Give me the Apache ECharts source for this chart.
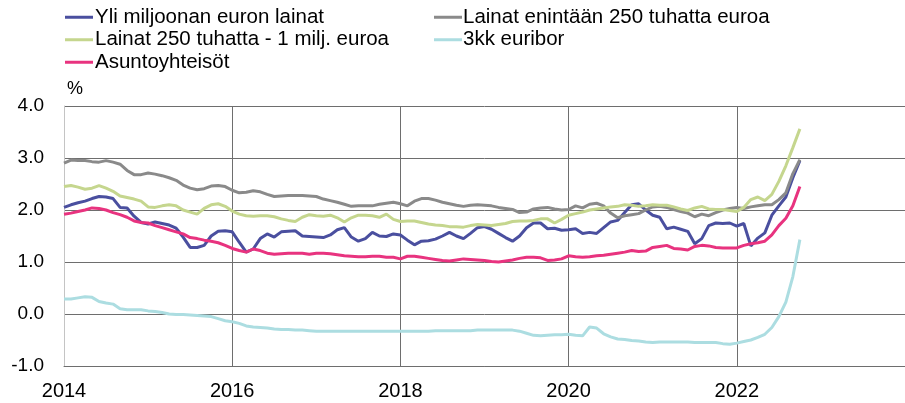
<!DOCTYPE html>
<html>
<head>
<meta charset="utf-8">
<script src="https://cdn.jsdelivr.net/npm/echarts@6/dist/echarts.min.js"></script>
<style>
  html, body { margin: 0; padding: 0; background: #fff; }
  #main { width: 905px; height: 403px; }
</style>
</head>
<body>
<div id="main"></div>
<script>
// kuukausittaiset arvot, tammikuu 2014 - lokakuu 2022
let yliMiljoona = [
  2.05,2.10,2.14,2.17,2.22,2.26,2.25,2.22,2.05,2.04,
  1.88,1.76,1.73,1.77,1.74,1.71,1.65,1.48,1.28,1.28,
  1.32,1.50,1.59,1.60,1.58,1.38,1.19,1.25,1.45,1.54,
  1.48,1.58,1.59,1.60,1.50,1.49,1.48,1.47,1.52,1.62,
  1.66,1.48,1.40,1.45,1.57,1.50,1.49,1.54,1.52,1.42,
  1.33,1.40,1.41,1.44,1.50,1.57,1.50,1.45,1.55,1.66,
  1.68,1.63,1.55,1.47,1.40,1.50,1.66,1.75,1.75,1.64,
  1.65,1.61,1.62,1.64,1.55,1.57,1.55,1.66,1.77,1.80,
  1.95,2.10,2.12,2.00,1.90,1.86,1.64,1.67,1.63,1.59,
  1.35,1.45,1.70,1.75,1.74,1.75,1.69,1.74,1.31,1.46,
  1.56,1.90,2.08,2.25,2.62,2.95
]
let enintaan250 = [
  2.90,2.96,2.95,2.95,2.93,2.92,2.95,2.92,2.88,2.76,
  2.68,2.68,2.71,2.69,2.66,2.62,2.57,2.48,2.42,2.39,
  2.41,2.46,2.47,2.45,2.38,2.33,2.34,2.37,2.35,2.30,
  2.26,2.27,2.28,2.28,2.28,2.27,2.26,2.21,2.18,2.15,
  2.11,2.07,2.08,2.08,2.08,2.11,2.13,2.15,2.12,2.08,
  2.17,2.22,2.22,2.19,2.15,2.12,2.09,2.07,2.09,2.10,
  2.09,2.08,2.05,2.03,2.01,1.95,1.96,2.02,2.04,2.05,
  2.02,2.00,2.01,2.08,2.04,2.11,2.13,2.08,1.94,1.85,
  1.89,1.91,1.93,2.00,2.06,2.07,2.05,2.01,1.97,1.94,
  1.87,1.92,1.89,1.95,2.00,2.03,2.05,2.03,2.06,2.08,
  2.10,2.10,2.20,2.33,2.70,2.97
]
let valiLainat = [
  2.45,2.47,2.44,2.40,2.42,2.47,2.42,2.36,2.27,2.24,
  2.21,2.17,2.06,2.05,2.08,2.10,2.08,2.00,1.96,1.92,
  2.03,2.10,2.12,2.07,1.98,1.92,1.89,1.88,1.89,1.89,
  1.87,1.83,1.80,1.78,1.86,1.91,1.89,1.88,1.90,1.85,
  1.77,1.85,1.90,1.90,1.89,1.86,1.92,1.82,1.78,1.79,
  1.79,1.76,1.73,1.71,1.70,1.68,1.68,1.67,1.70,1.72,
  1.71,1.70,1.72,1.74,1.78,1.79,1.79,1.80,1.83,1.83,
  1.75,1.82,1.90,1.93,1.96,2.00,2.02,2.04,2.06,2.07,
  2.10,2.09,2.07,2.08,2.10,2.09,2.09,2.06,2.02,1.99,
  2.04,2.07,2.02,2.01,2.01,1.99,1.97,2.05,2.20,2.25,
  2.18,2.30,2.55,2.85,3.20,3.56
]
let euribor3kk = [
  0.29,0.29,0.31,0.33,0.32,0.24,0.21,0.19,0.10,0.08,0.08,0.08,
  0.06,0.05,0.03,0.00,-0.01,-0.01,-0.02,-0.03,-0.04,-0.05,-0.09,-0.13,
  -0.15,-0.18,-0.23,-0.25,-0.26,-0.27,-0.29,-0.30,-0.30,-0.31,-0.31,-0.32,
  -0.33,-0.33,-0.33,-0.33,-0.33,-0.33,-0.33,-0.33,-0.33,-0.33,-0.33,-0.33,
  -0.33,-0.33,-0.33,-0.33,-0.33,-0.32,-0.32,-0.32,-0.32,-0.32,-0.32,-0.31,
  -0.31,-0.31,-0.31,-0.31,-0.31,-0.33,-0.37,-0.41,-0.42,-0.41,-0.40,-0.40,
  -0.39,-0.41,-0.42,-0.25,-0.27,-0.38,-0.44,-0.48,-0.49,-0.51,-0.52,-0.54,
  -0.55,-0.54,-0.54,-0.54,-0.54,-0.54,-0.55,-0.55,-0.55,-0.55,-0.57,-0.58,
  -0.56,-0.53,-0.50,-0.45,-0.39,-0.26,-0.05,0.23,0.72,1.43
]
let asuntoyhteisot = [
  1.92,1.94,1.97,2.00,2.04,2.03,2.00,1.95,1.91,1.86,
  1.79,1.76,1.75,1.70,1.66,1.62,1.58,1.54,1.47,1.45,
  1.42,1.40,1.37,1.32,1.26,1.22,1.19,1.25,1.22,1.17,
  1.15,1.16,1.17,1.17,1.17,1.15,1.17,1.17,1.16,1.14,
  1.12,1.11,1.10,1.10,1.11,1.11,1.09,1.09,1.06,1.11,
  1.11,1.09,1.07,1.05,1.03,1.02,1.04,1.06,1.05,1.04,
  1.03,1.01,1.00,1.02,1.04,1.07,1.09,1.09,1.08,1.03,
  1.04,1.06,1.12,1.10,1.09,1.10,1.12,1.13,1.15,1.17,
  1.19,1.22,1.20,1.21,1.28,1.30,1.32,1.26,1.25,1.23,
  1.30,1.32,1.31,1.28,1.27,1.27,1.27,1.32,1.35,1.37,
  1.40,1.52,1.70,1.84,2.08,2.45
]

let seriesNames = ['Yli miljoonan euron lainat', 'Lainat enintään 250 tuhatta euroa',
  'Lainat 250 tuhatta - 1 milj. euroa', '3kk euribor', 'Asuntoyhteisöt']
let seriesValues = [yliMiljoona, enintaan250, valiLainat, euribor3kk, asuntoyhteisot]
let colors = ['#4a4f9f', '#8a8a8a', '#c5d68e', '#acdde1', '#e8337f']

let startYear = 2014
let font = 'Liberation Sans, Arial, sans-serif'

// kuukausi -> vuosi desimaalina
function toPoints(arr) {
  return arr.map(function(v, i) { return [startYear + i / 12, v] })
}

let myChart = echarts.init(document.getElementById('main'))

let legendText = { fontSize: 20.5, lineHeight: 22.5, color: '#000', fontFamily: font }

let option = {
  animation: false,
  color: colors,
  legend: [{
      left: 65, top: 6, orient: 'vertical', icon: 'rect', padding: 0,
      itemWidth: 28, itemHeight: 3, itemGap: 0, selectedMode: false,
      data: [seriesNames[0], seriesNames[2], seriesNames[4]],
      textStyle: Object.assign({ padding: [0, 0, 0, -3] }, legendText)
    },
    {
      left: 434, top: 6, orient: 'vertical', icon: 'rect', padding: 0,
      itemWidth: 28, itemHeight: 3, itemGap: 0, selectedMode: false,
      data: [seriesNames[1], seriesNames[3]],
      textStyle: Object.assign({ padding: [0, 0, 0, -4] }, legendText)
    }
  ],
  graphic: [{
    type: 'text', left: 67, top: 80,
    style: { text: '%', fontSize: 18, fontFamily: font, fill: '#000' }
  }],
  grid: { left: 64, right: 0, top: 106, bottom: 37, containLabel: false },
  xAxis: {
    type: 'value', min: 2014, max: 2024, interval: 2,
    axisLine: { show: true, onZero: false, lineStyle: { color: '#6e6e6e', width: 1 } },
    axisTick: { show: false },
    axisLabel: {
      showMaxLabel: false, fontSize: 20, color: '#000', fontFamily: font, margin: 15,
      formatter: function(v) { return String(v) }
    },
    splitLine: { show: true, showMinLine: false, lineStyle: { color: '#6e6e6e', width: 1 } }
  },
  yAxis: {
    type: 'value', min: -1, max: 4, interval: 1,
    axisLine: { show: true, lineStyle: { color: '#c4c4c4', width: 1 } },
    axisTick: { show: false },
    axisLabel: {
      fontSize: 19, color: '#000', fontFamily: font, margin: 20,
      formatter: function(v) { return v.toFixed(1) }
    },
    splitLine: { show: true, lineStyle: { color: '#6e6e6e', width: 1 } }
  },
  series: seriesNames.map(function(name, k) {
    return {
      name: name,
      type: 'line',
      data: toPoints(seriesValues[k]),
      showSymbol: false,
      lineStyle: { width: 3 }
    }
  })
}

myChart.setOption(option)
</script>
</body>
</html>
